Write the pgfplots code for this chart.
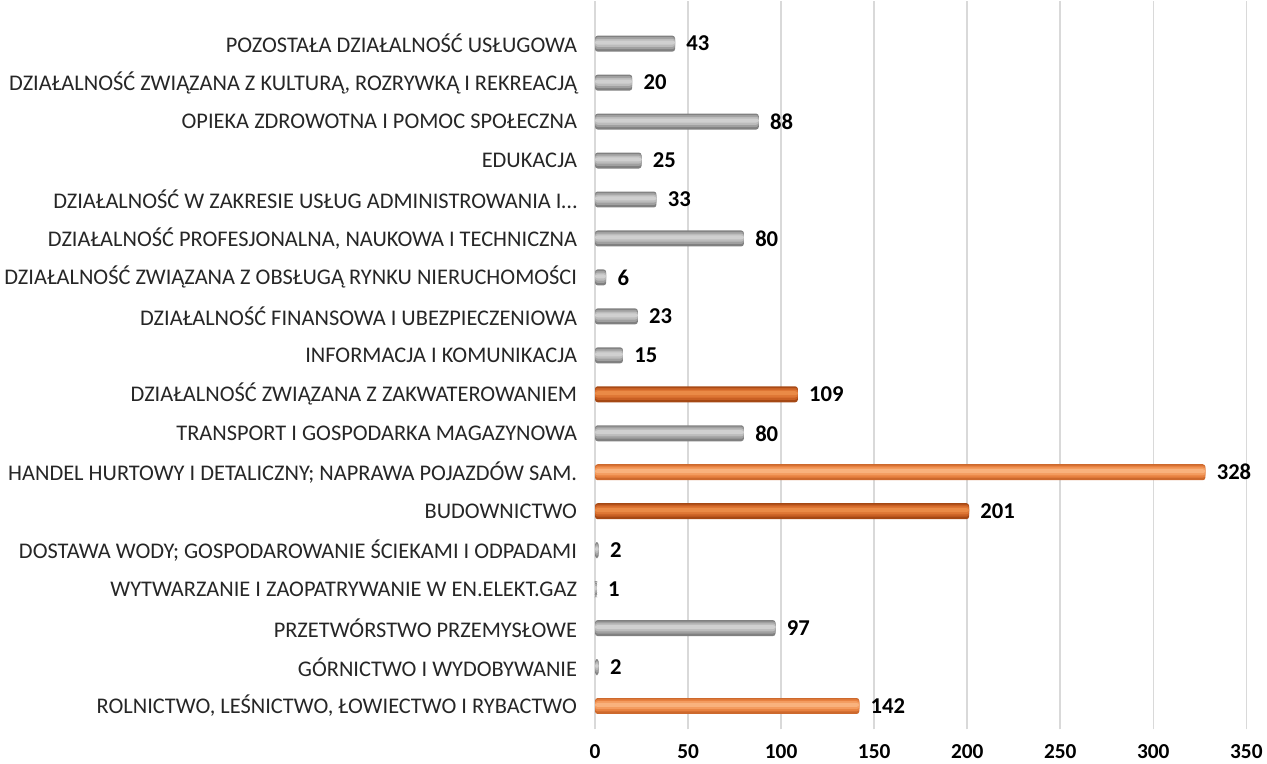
\documentclass[border=0pt]{standalone}
\usepackage{fontspec}
\setmainfont{Carlito}
\usepackage{pgfplots}
\pgfplotsset{compat=1.18}

\definecolor{gridc}{RGB}{217,217,217}
\definecolor{txt}{RGB}{38,38,38}
% gray cylinder tones
\definecolor{g1}{RGB}{128,128,128}
\definecolor{g2}{RGB}{160,160,160}
\definecolor{g3}{RGB}{188,188,188}
\definecolor{g4}{RGB}{208,208,208}
% light orange tones
\definecolor{o1}{RGB}{205,105,45}
\definecolor{o2}{RGB}{232,130,65}
\definecolor{o3}{RGB}{244,156,95}
\definecolor{o4}{RGB}{249,178,125}
% dark orange tones
\definecolor{d1}{RGB}{165,72,20}
\definecolor{d2}{RGB}{200,95,35}
\definecolor{d3}{RGB}{222,118,52}
\definecolor{d4}{RGB}{234,138,70}

\pgfplotstableread{
v  y
2  1
97 2
1  3
2  4
80 7
15 9
23 10
6  11
80 12
33 13
25 14
88 15
20 16
43 17
}\grays
\pgfplotstableread{
v   y
142 0
328 6
}\lights
\pgfplotstableread{
v   y
201 5
109 8
}\darks

\begin{document}
\begin{tikzpicture}
\begin{axis}[
    scale only axis,
    width=489pt, height=547pt,
    xmin=0, xmax=350, ymin=-0.6, ymax=18.1,
    xtick={0,50,100,150,200,250,300,350},
    ytick={0,1,2,3,4,5,6,7,8,9,10,11,12,13,14,15,16,17},
    yticklabels={
      {ROLNICTWO, LEŚNICTWO, ŁOWIECTWO I RYBACTWO},
      {GÓRNICTWO I WYDOBYWANIE},
      {PRZETWÓRSTWO PRZEMYSŁOWE},
      {WYTWARZANIE I ZAOPATRYWANIE W EN.ELEKT.GAZ},
      {DOSTAWA WODY; GOSPODAROWANIE ŚCIEKAMI I ODPADAMI\hspace{8pt}},
      {BUDOWNICTWO},
      {HANDEL HURTOWY I DETALICZNY; NAPRAWA POJAZDÓW SAM.},
      {TRANSPORT I GOSPODARKA MAGAZYNOWA},
      {DZIAŁALNOŚĆ ZWIĄZANA Z ZAKWATEROWANIEM\hspace{14pt}},
      {INFORMACJA I KOMUNIKACJA},
      {DZIAŁALNOŚĆ FINANSOWA I UBEZPIECZENIOWA},
      {DZIAŁALNOŚĆ ZWIĄZANA Z OBSŁUGĄ RYNKU NIERUCHOMOŚCI},
      {DZIAŁALNOŚĆ PROFESJONALNA, NAUKOWA I TECHNICZNA},
      {DZIAŁALNOŚĆ W ZAKRESIE USŁUG ADMINISTROWANIA I\ldots},
      {EDUKACJA},
      {OPIEKA ZDROWOTNA I POMOC SPOŁECZNA},
      {DZIAŁALNOŚĆ ZWIĄZANA Z KULTURĄ, ROZRYWKĄ I REKREACJĄ},
      {POZOSTAŁA DZIAŁALNOŚĆ USŁUGOWA}},
    axis line style={draw=none},
    major tick length=0pt,
    xmajorgrids,
    grid style={gridc, line width=1.2pt},
    yticklabel style={font=\fontsize{16.8}{18}\selectfont, text=txt, xshift=-10pt},
    xticklabel style={font=\fontsize{16}{18}\selectfont\bfseries, text=black, yshift=-8pt},
    /pgf/number format/assume math mode=true,
    xbar, bar shift=0pt,
    clip=false,
    lay/.style={draw=none, rounded corners=2pt, forget plot},
    lbl/.style={nodes near coords, nodes near coords align=horizontal,
      every node near coord/.append style={font=\fontsize{17}{19}\selectfont\bfseries, text=black, xshift=5pt}},
]
% gray bars, drawn as stacked layers for a cylinder look
\addplot[lay, lbl, fill=g1, bar width=12pt] table[x=v, y=y] {\grays};
\addplot[lay, fill=g2, bar width=9pt, bar shift=0.4pt] table[x=v, y=y] {\grays};
\addplot[lay, fill=g3, bar width=6pt, bar shift=0.6pt] table[x=v, y=y] {\grays};
\addplot[lay, fill=g4, bar width=3pt, bar shift=0.8pt] table[x=v, y=y] {\grays};
% light orange bars
\addplot[lay, lbl, fill=o1, bar width=12pt] table[x=v, y=y] {\lights};
\addplot[lay, fill=o2, bar width=9pt, bar shift=0.4pt] table[x=v, y=y] {\lights};
\addplot[lay, fill=o3, bar width=6pt, bar shift=0.6pt] table[x=v, y=y] {\lights};
\addplot[lay, fill=o4, bar width=3pt, bar shift=0.8pt] table[x=v, y=y] {\lights};
% dark orange bars
\addplot[lay, lbl, fill=d1, bar width=12pt] table[x=v, y=y] {\darks};
\addplot[lay, fill=d2, bar width=9pt, bar shift=0.4pt] table[x=v, y=y] {\darks};
\addplot[lay, fill=d3, bar width=6pt, bar shift=0.6pt] table[x=v, y=y] {\darks};
\addplot[lay, fill=d4, bar width=3pt, bar shift=0.8pt] table[x=v, y=y] {\darks};
\end{axis}
\end{tikzpicture}
\end{document}
